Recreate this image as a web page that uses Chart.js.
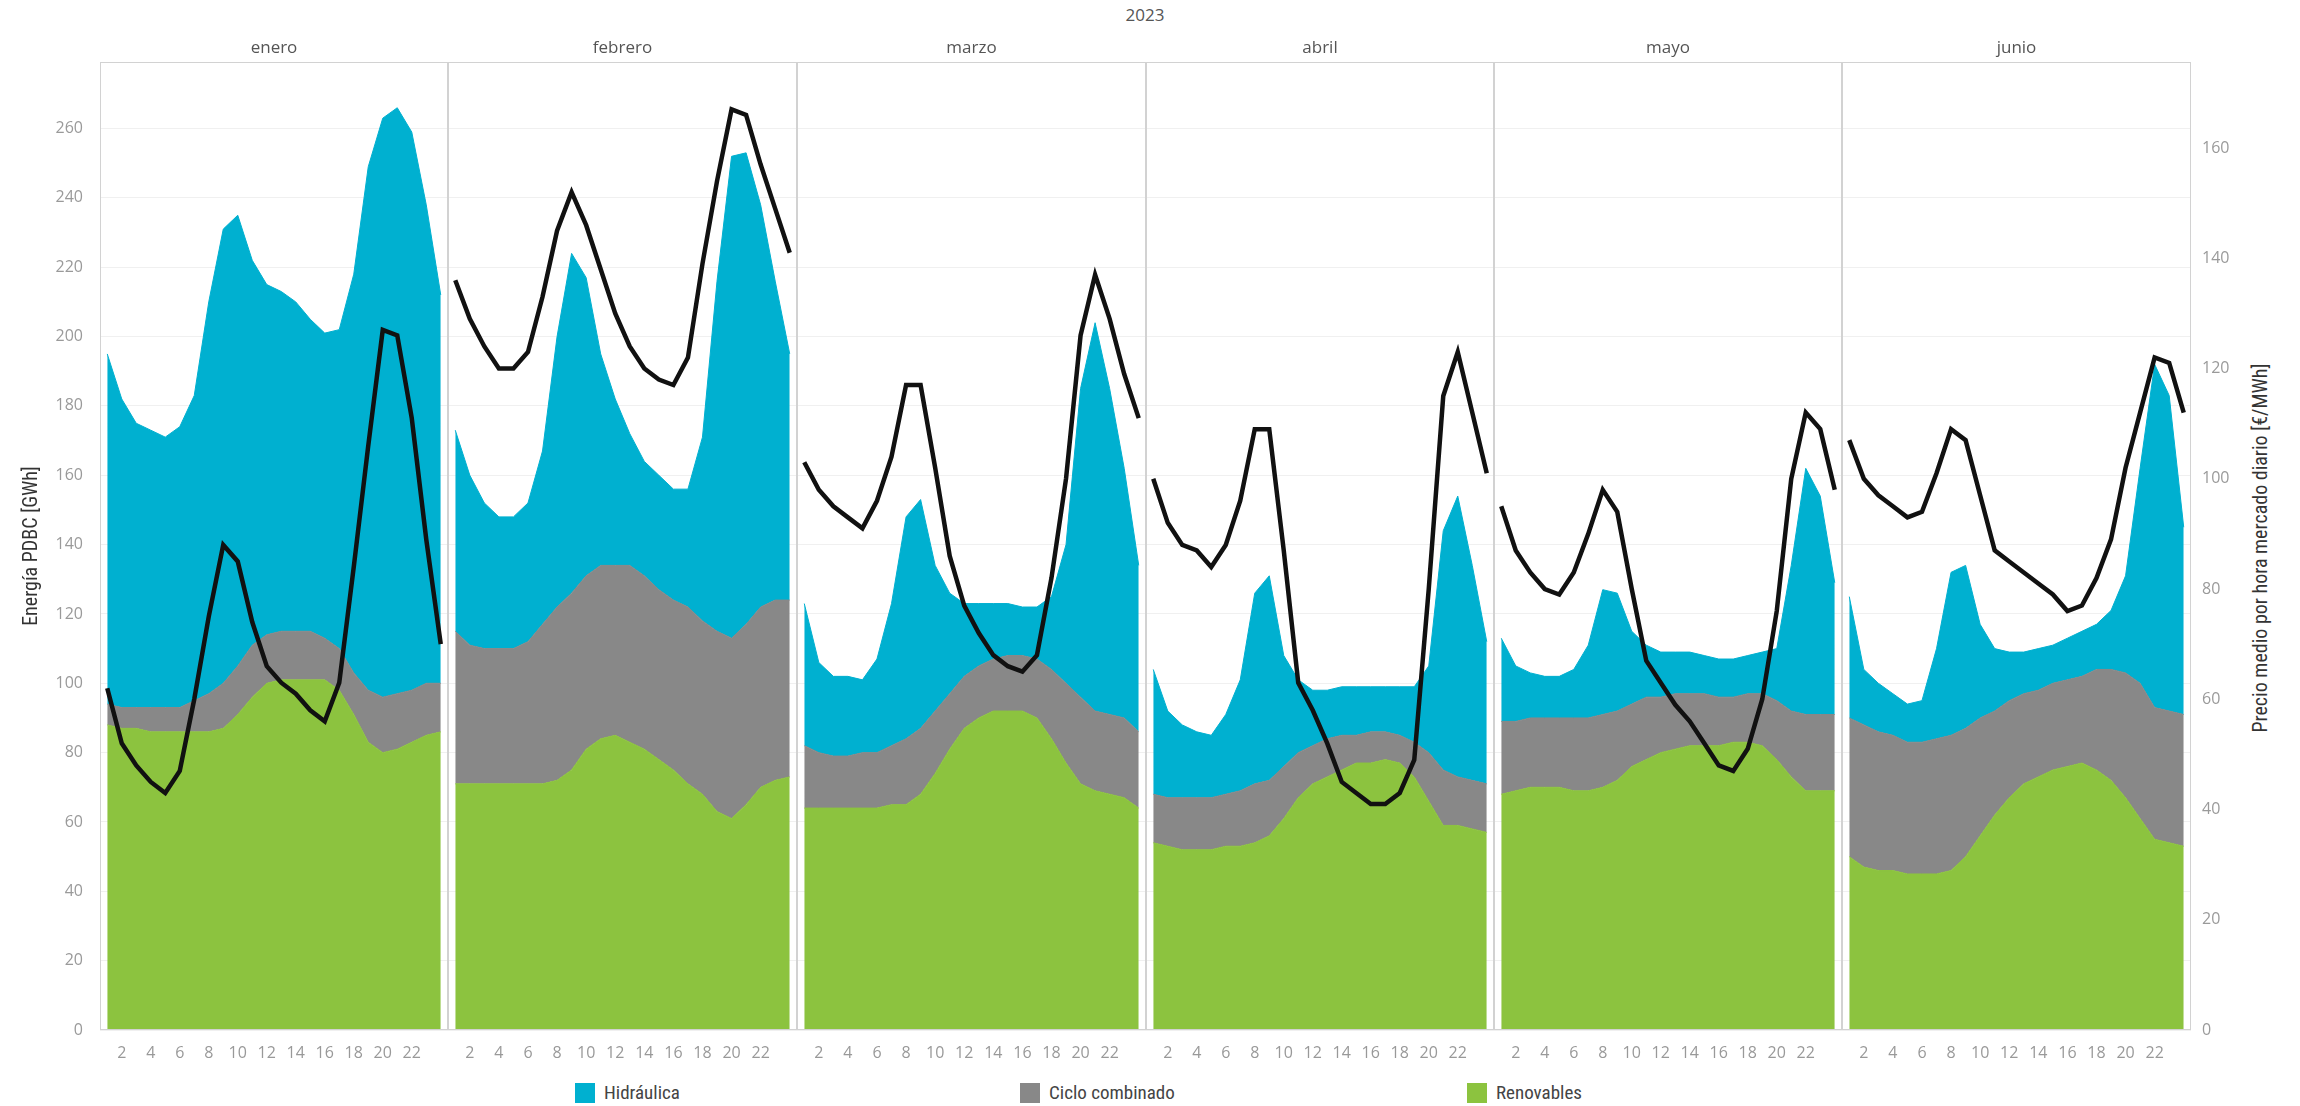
<!DOCTYPE html>
<html lang="es">
<head>
<meta charset="utf-8">
<title>Energía PDBC y precio medio por hora - 2023</title>
<script src="https://cdn.jsdelivr.net/npm/chart.js@4.4.1/dist/chart.umd.min.js"></script>
<style>
  html, body { margin: 0; padding: 0; background: #fff; }
  body { width: 2300px; height: 1106px; position: relative; overflow: hidden; font-family: 'Open Sans', sans-serif; }
  canvas { position: absolute; top: 0; }
  #year { position: absolute; top: 3px; left: 1045px; width: 200px; text-align: center; font-size: 17px; color: #555; }
  #rightTitle { position: absolute; left: 2260px; top: 548px; transform: translate(-50%, -50%) rotate(-90deg);
    white-space: nowrap; font-family: 'Liberation Sans Narrow', 'Roboto Condensed', Roboto, sans-serif; font-size: 20px; color: #333; }
  .item { position: absolute; top: 1083px; height: 20px; line-height: 20px; font-family: 'Liberation Sans Narrow', 'Roboto Condensed', Roboto, sans-serif; font-size: 19px; color: #444; white-space: nowrap; }
  .item span { display: inline-block; width: 20px; height: 20px; vertical-align: top; margin-right: 9px; }
</style>
</head>
<body>
<div id="year">2023</div>
<div id="rightTitle">Precio medio por hora mercado diario [€/MWh]</div>
<div id="legend"></div>

<script>
// categories
const months = ['enero', 'febrero', 'marzo', 'abril', 'mayo', 'junio'];
const hours = ['1','2','3','4','5','6','7','8','9','10','11','12','13','14','15','16','17','18','19','20','21','22','23','24'];
const hourTicks = ['2','4','6','8','10','12','14','16','18','20','22'];

// GWh por tecnología (una fila por mes, 24 horas)
const renovables = [
  [88,87,87,86,86,86,86,86,87,91,96,100,101,101,101,101,98,91,83,80,81,83,85,86],
  [71,71,71,71,71,71,71,72,75,81,84,85,83,81,78,75,71,68,63,61,65,70,72,73],
  [64,64,64,64,64,64,65,65,68,74,81,87,90,92,92,92,90,84,77,71,69,68,67,64],
  [54,53,52,52,52,53,53,54,56,61,67,71,73,75,77,77,78,77,73,66,59,59,58,57],
  [68,69,70,70,70,69,69,70,72,76,78,80,81,82,82,82,83,83,82,78,73,69,69,69],
  [50,47,46,46,45,45,45,46,50,56,62,67,71,73,75,76,77,75,72,67,61,55,54,53]
];
const cicloCombinado = [
  [6,6,6,7,7,7,9,11,13,14,15,14,14,14,14,12,12,12,15,16,16,15,15,14],
  [44,40,39,39,39,41,46,50,51,50,50,49,51,50,49,49,51,50,52,52,52,52,52,51],
  [18,16,15,15,16,16,17,19,19,18,16,15,15,15,16,16,17,20,23,25,23,23,23,22],
  [14,14,15,15,15,15,16,17,16,15,13,11,11,10,8,9,8,8,10,14,16,14,14,14],
  [21,20,20,20,20,21,21,21,20,18,18,16,16,15,15,14,13,14,15,17,19,22,22,22],
  [40,41,40,39,38,38,39,39,37,34,30,28,26,25,25,25,25,29,32,36,39,38,38,38]
];
const hidraulica = [
  [101,89,82,80,78,81,88,113,131,130,111,101,98,95,90,88,92,115,151,167,169,161,138,112],
  [58,49,42,38,38,40,50,78,98,86,61,48,38,33,33,32,34,53,101,139,136,116,92,71],
  [41,26,23,23,21,27,41,64,66,42,29,21,18,16,15,14,15,21,40,89,112,94,72,48],
  [36,25,21,19,18,23,32,55,59,32,21,16,14,14,14,13,13,14,16,25,69,81,62,41],
  [24,16,13,12,12,14,21,36,34,21,15,13,12,12,11,11,11,11,12,15,42,71,63,38],
  [35,16,14,12,11,12,26,47,47,27,18,14,12,12,11,12,13,13,17,28,62,99,91,54]
];
// €/MWh
const precio = [
  [62,52,48,45,43,47,60,75,88,85,74,66,63,61,58,56,63,84,106,127,126,111,89,70],
  [136,129,124,120,120,123,133,145,152,146,138,130,124,120,118,117,122,139,154,167,166,157,149,141],
  [103,98,95,93,91,96,104,117,117,102,86,77,72,68,66,65,68,82,100,126,137,129,119,111],
  [100,92,88,87,84,88,96,109,109,87,63,58,52,45,43,41,41,43,49,80,115,123,112,101],
  [95,87,83,80,79,83,90,98,94,80,67,63,59,56,52,48,47,51,60,76,100,112,109,98],
  [107,100,97,95,93,94,101,109,107,97,87,85,83,81,79,76,77,82,89,102,112,122,121,112]
];

const colors = { hid: '#00b0d0', cc: '#888888', ren: '#8cc33f', price: '#111111' };
const legendItems = [
  { label: 'Hidráulica', color: colors.hid, x: 575 },
  { label: 'Ciclo combinado', color: colors.cc, x: 1020 },
  { label: 'Renovables', color: colors.ren, x: 1467 }
];

// panel layout (canvas left, canvas width)
const panels = [
  { left: 0, width: 448 },
  { left: 448, width: 349 },
  { left: 797, width: 349 },
  { left: 1146, width: 348 },
  { left: 1494, width: 348 },
  { left: 1842, width: 458 }
];
const canvasHeight = 1075;
const tickFont = { family: "'Open Sans', sans-serif", size: 16 };

const framePlugin = {
  id: 'frame',
  afterDatasetsDraw(chart) {
    const a = chart.chartArea, ctx = chart.ctx;
    ctx.save();
    ctx.strokeStyle = '#d2d2d2';
    ctx.lineWidth = 1;
    ctx.strokeRect(a.left + 0.5, a.top + 0.5, a.right - a.left - 1, a.bottom - a.top - 1);
    ctx.restore();
  }
};

function makeChart(i) {
  const first = i === 0, last = i === months.length - 1;
  const canvas = document.createElement('canvas');
  canvas.width = panels[i].width;
  canvas.height = canvasHeight;
  canvas.style.left = panels[i].left + 'px';
  canvas.style.width = panels[i].width + 'px';
  canvas.style.height = canvasHeight + 'px';
  document.body.appendChild(canvas);

  const area = (label, data, color, fill) => ({
    type: 'line', label, data, yAxisID: 'y', order: 1,
    backgroundColor: color, borderColor: color, borderWidth: 1,
    pointRadius: 0, fill, tension: 0
  });

  new Chart(canvas, {
    type: 'line',
    data: {
      labels: hours,
      datasets: [
        area('Renovables', renovables[i], colors.ren, 'origin'),
        area('Ciclo combinado', cicloCombinado[i], colors.cc, '-1'),
        area('Hidráulica', hidraulica[i], colors.hid, '-1'),
        {
          type: 'line', label: 'Precio', data: precio[i], yAxisID: 'y1', order: 0,
          borderColor: colors.price, borderWidth: 4.5, pointRadius: 0, fill: false, tension: 0
        }
      ]
    },
    options: {
      responsive: false,
      animation: false,
      devicePixelRatio: 1,
      layout: { padding: 0, autoPadding: false },
      plugins: {
        legend: { display: false },
        tooltip: { enabled: false },
        title: {
          display: true, text: months[i], fullSize: false,
          color: '#555', font: { family: "'Open Sans', sans-serif", size: 17, weight: 'normal' },
          padding: { top: 37.8, bottom: 3.8 }
        }
      },
      scales: {
        x: {
          type: 'category', offset: true,
          grid: { display: false }, border: { display: false },
          ticks: {
            autoSkip: false, maxRotation: 0, padding: 6, color: '#999', font: tickFont,
            callback: function(v, idx) { const l = hours[idx]; return hourTicks.includes(l) ? l : ''; }
          },
          afterFit: s => { s.height = 45; }
        },
        y: {
          position: 'left', stacked: true, min: 0, max: 279.2,
          grid: { color: '#f0f0f0', drawTicks: false },
          border: { display: false },
          ticks: { display: first, stepSize: 20, includeBounds: false, padding: 17, color: '#9a9a9a', font: tickFont },
          title: {
            display: first, text: 'Energía PDBC [GWh]', color: '#333',
            font: { family: "'Liberation Sans Narrow', 'Roboto Condensed', Roboto, sans-serif", size: 20 },
            padding: { top: 20, bottom: 0 }
          },
          afterFit: s => { s.width = first ? 100 : 0; }
        },
        y1: {
          position: 'right', display: last, min: 0, max: 175.6,
          grid: { drawOnChartArea: false, drawTicks: false },
          border: { display: false },
          ticks: { stepSize: 20, includeBounds: false, padding: 11, color: '#9a9a9a', font: tickFont },
          afterFit: s => { s.width = last ? 109 : 0; }
        }
      }
    },
    plugins: [framePlugin]
  });
}

months.forEach((m, i) => makeChart(i));

const legend = document.getElementById('legend');
legendItems.forEach(it => {
  const d = document.createElement('div');
  d.className = 'item';
  d.style.left = it.x + 'px';
  const sw = document.createElement('span');
  sw.style.background = it.color;
  d.appendChild(sw);
  d.appendChild(document.createTextNode(it.label));
  legend.appendChild(d);
});
</script>
</body>
</html>
